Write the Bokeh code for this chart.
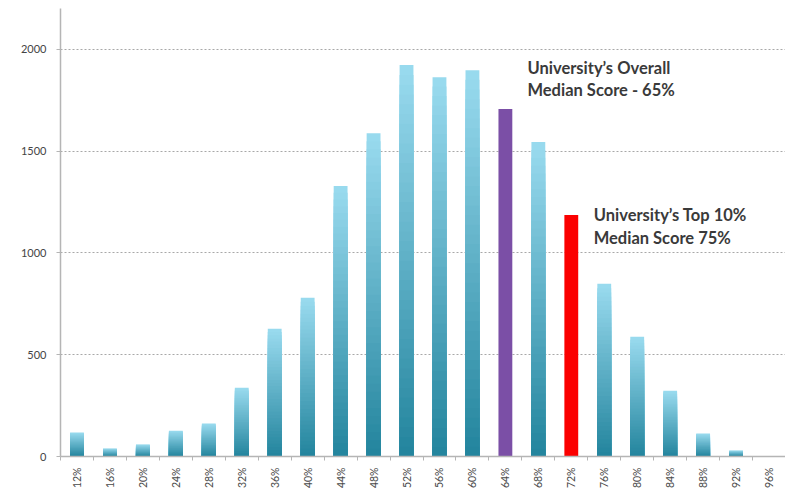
import math
from bokeh.plotting import figure
from bokeh.models import Range1d, FixedTicker, Label, ColumnDataSource
from bokeh.embed import file_html
from bokeh.resources import INLINE

categories = ["12%", "16%", "20%", "24%", "28%", "32%", "36%", "40%", "44%", "48%", "52%",
              "56%", "60%", "64%", "68%", "72%", "76%", "80%", "84%", "88%", "92%", "96%"]
counts = [118, 39, 59, 127, 162, 338, 627, 779, 1328, 1588, 1922,
          1863, 1897, 1706, 1544, 1186, 848, 588, 323, 113, 29, 0]
overall_median_cat = "64%"
top10_median_cat = "72%"
y_ticks = [0, 500, 1000, 1500, 2000]
note_overall = ["University\u2019s Overall", "Median Score - 65%"]
note_top10 = ["University\u2019s Top 10%", "Median Score 75%"]

p = figure(width=785, height=497, output_backend="svg", toolbar_location=None,
           x_range=Range1d(0, len(categories)), y_range=Range1d(0, 2200),
           min_border_left=60, min_border_right=0, min_border_top=8, min_border_bottom=41)
p.outline_line_color = None
p.background_fill_color = "white"
p.border_fill_color = "white"

# gradient bars: nested bars drawn tallest first so each band shows its own colour
dark = (0x22, 0x84, 0x9d)
light = (0x9a, 0xdb, 0xef)
N = 40
xs, tops, cols = [], [], []
for k in range(N - 1, -1, -1):
    t = (k + 0.5) / N
    col = "#%02x%02x%02x" % tuple(int(round(dark[j] + (light[j] - dark[j]) * t)) for j in range(3))
    for i, (c, v) in enumerate(zip(categories, counts)):
        if v <= 0 or c in (overall_median_cat, top10_median_cat):
            continue
        xs.append(i + 0.5)
        tops.append(v * (k + 1) / N)
        cols.append(col)
src = ColumnDataSource(dict(x=xs, top=tops, color=cols))
p.vbar(x="x", bottom=0, top="top", width=0.42, fill_color="color", line_color=None, source=src)

io = categories.index(overall_median_cat)
it = categories.index(top10_median_cat)
p.vbar(x=[io + 0.5], top=[counts[io]], width=0.42, fill_color="#7b4fa6", line_color=None)
p.vbar(x=[it + 0.5], top=[counts[it]], width=0.42, fill_color="#fb0000", line_color=None)

# axes
centers = [i + 0.5 for i in range(len(categories))]
bounds = list(range(len(categories) + 1))
p.xaxis.ticker = FixedTicker(ticks=centers, minor_ticks=bounds)
p.xaxis.major_label_overrides = {c: lab for c, lab in zip(centers, categories)}
p.xaxis.major_label_orientation = math.pi / 2
p.xaxis.major_tick_out = 0
p.xaxis.major_tick_in = 0
p.xaxis.minor_tick_out = 4
p.xaxis.minor_tick_in = 0
p.xaxis.minor_tick_line_color = "#b5b5b5"
p.xaxis.axis_line_color = "#b5b5b5"
p.xaxis.axis_line_width = 1.5
p.xaxis.major_label_text_font = "Lato"
p.xaxis.major_label_text_font_size = "10.5px"
p.xaxis.major_label_text_color = "#4a4a4a"
p.xaxis.major_label_standoff = 7

p.yaxis.ticker = FixedTicker(ticks=y_ticks)
p.yaxis.axis_line_color = "#b5b5b5"
p.yaxis.axis_line_width = 1.5
p.yaxis.major_tick_out = 4
p.yaxis.major_tick_in = 0
p.yaxis.major_tick_line_color = "#b5b5b5"
p.yaxis.minor_tick_line_color = None
p.yaxis.major_label_text_font = "Lato"
p.yaxis.major_label_text_font_size = "11px"
p.yaxis.major_label_text_color = "#444444"
p.yaxis.major_label_standoff = 10

p.xgrid.grid_line_color = None
p.ygrid.grid_line_color = "#a8a8a8"
p.ygrid.grid_line_dash = "2 2"
p.ygrid.grid_line_width = 1

def add_note(lines, x, ys):
    for line, y in zip(lines, ys):
        p.add_layout(Label(x=x, y=y, text=line, text_font="Lato", text_font_style="bold",
                           text_font_size="16.5px", text_color="#3a3a3a", text_baseline="top"))

add_note(note_overall, 14.17, [1955, 1850])
add_note(note_top10, 16.18, [1233, 1120])

open("out.html", "w").write(file_html(p, INLINE))
